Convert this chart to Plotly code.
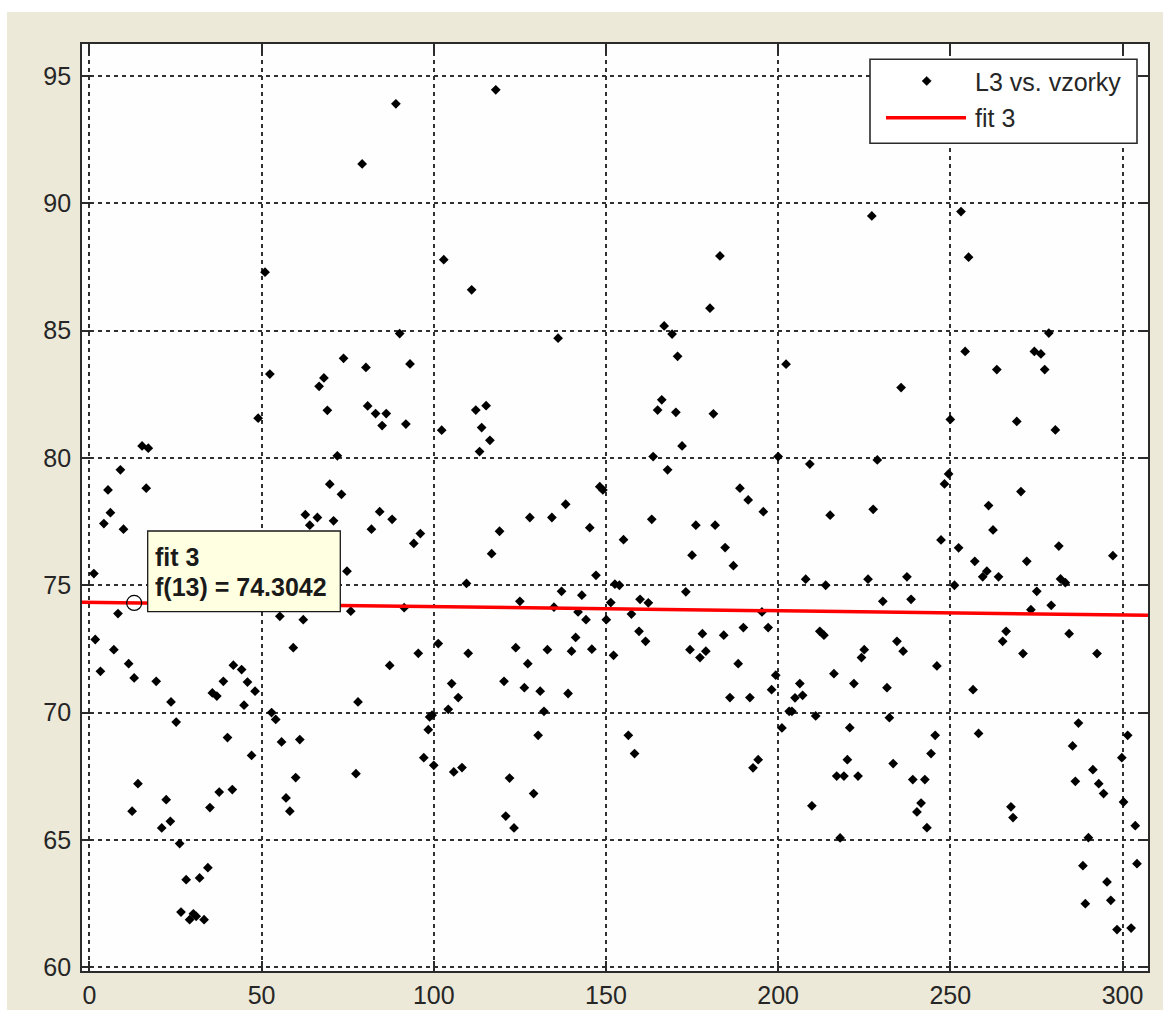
import plotly.graph_objects as go

# ---------------- data ----------------
sample_x = [
    51.0, 73.8, 52.4, 68.1, 66.7, 69.1, 49.0, 15.3, 17.1, 72.0, 9.0, 5.4, 16.5, 69.8, 73.2,
    6.1, 4.2, 9.9, 1.3, 8.3, 1.7, 7.1, 3.2, 11.4, 13.0, 19.4, 23.7, 25.2, 35.7, 37.0, 38.9,
    41.8, 44.2, 45.9, 48.1, 44.9, 40.1, 47.1, 14.1, 12.4, 22.3, 21.0, 23.5, 26.2, 35.0, 37.7,
    41.5, 28.1, 32.0, 34.4, 26.6, 29.1, 30.2, 31.0, 33.3, 62.7, 64.0, 66.2, 70.9, 74.8, 55.3,
    62.1, 75.9, 59.2, 52.9, 54.1, 55.8, 61.1, 59.9, 57.1, 58.2,
    89.0, 79.2, 118.0, 102.9, 111.0, 90.1, 136.1, 80.3, 93.1, 80.8, 83.1, 86.2, 85.0, 91.9,
    102.3, 112.2, 115.2, 113.9, 116.3, 113.3, 84.3, 138.3, 148.2, 149.1,
    81.9, 87.9, 94.2, 96.1, 91.4, 109.5, 116.8, 119.1, 127.9, 134.3, 145.3, 147.1, 137.1,
    143.0, 125.0, 134.9, 141.9, 144.2, 150.1, 151.4, 101.3, 95.5, 110.0, 87.2, 123.8, 133.0,
    140.0, 145.9, 141.2, 127.3, 120.4, 126.3, 130.9, 139.0, 105.2, 107.1, 104.2, 132.0, 78.0,
    77.4, 97.1, 98.4, 98.8, 99.5, 100.0, 105.8, 108.2, 122.0, 129.0, 120.9, 123.3, 130.3,
    227.2, 183.1, 180.2, 166.9, 169.2, 170.8, 202.3, 166.2, 165.0, 170.3, 181.2, 172.1, 163.7,
    200.0, 167.9, 209.2, 188.9, 191.3, 195.7, 228.8, 227.6,
    163.3, 155.1, 176.1, 181.7, 175.0, 184.6, 187.0, 215.1, 152.6, 153.9, 152.2, 159.9, 162.3,
    157.4, 159.6, 161.5, 173.2, 195.3, 197.1, 189.9, 184.2, 178.0, 174.4, 177.3, 179.0, 188.4,
    199.3, 198.1, 186.0, 191.8, 156.5, 158.3, 194.2, 192.7, 208.0, 213.8, 226.1, 212.1, 213.3,
    225.0, 224.2, 216.2, 222.0, 206.3, 207.1, 204.9, 203.2, 204.0, 201.1, 210.9, 220.8, 220.1,
    217.0, 219.1, 223.2, 209.8, 218.0,
    253.1, 255.3, 278.6, 254.3, 274.4, 276.3, 263.5, 277.4, 235.7, 250.0, 269.3, 280.5, 249.5,
    248.3, 270.5, 261.1, 262.4, 247.3, 252.4, 281.5, 297.2,
    237.4, 230.4, 238.6, 251.2, 257.1, 259.4, 260.6, 264.0, 272.2, 275.1, 273.4, 279.3, 282.0,
    283.4, 234.5, 236.3, 246.1, 231.6, 232.3, 233.4, 245.6, 244.4, 239.1, 242.6, 241.5, 240.3,
    243.2, 266.2, 265.2, 271.1, 256.6, 258.2, 267.6, 268.2, 284.5, 292.6, 287.2, 285.5, 286.3,
    291.4, 293.1, 294.5, 299.8, 301.5, 300.3, 303.7, 290.1, 288.5, 304.2, 295.5, 289.2, 296.6,
    298.4, 302.5,
]
l3_values = [
    87.29, 83.91, 83.29, 83.14, 82.81, 81.87, 81.56, 80.47, 80.38, 80.08, 79.53, 78.74, 78.81, 78.97, 78.57,
    77.85, 77.42, 77.20, 75.46, 73.89, 72.87, 72.47, 71.62, 71.92, 71.36, 71.23, 70.42, 69.63, 70.77, 70.65, 71.23,
    71.86, 71.69, 71.20, 70.84, 70.29, 69.02, 68.32, 67.21, 66.13, 66.58, 65.47, 65.73, 64.86, 66.27, 66.88,
    66.98, 63.44, 63.51, 63.91, 62.17, 61.87, 62.10, 62.00, 61.87, 77.77, 77.36, 77.66, 77.53, 75.55, 73.78,
    73.65, 73.98, 72.55, 70.00, 69.73, 68.85, 68.94, 67.45, 66.65, 66.13,
    93.90, 91.54, 94.45, 87.78, 86.60, 84.88, 84.70, 83.55, 83.69, 82.04, 81.74, 81.74, 81.27, 81.33,
    81.09, 81.88, 82.05, 81.19, 80.69, 80.25, 77.89, 78.18, 78.87, 78.74,
    77.20, 77.59, 76.64, 77.03, 74.12, 75.07, 76.24, 77.12, 77.66, 77.66, 77.26, 75.39, 74.76,
    74.61, 74.37, 74.14, 73.95, 73.65, 73.65, 74.32, 72.71, 72.33, 72.33, 71.85, 72.55, 72.47,
    72.41, 72.49, 72.95, 71.92, 71.23, 70.98, 70.84, 70.75, 71.14, 70.59, 70.13, 70.05, 70.42,
    67.60, 68.23, 69.33, 69.83, 69.90, 67.93, 67.67, 67.84, 67.43, 66.82, 65.94, 65.47, 69.11,
    89.50, 87.93, 85.88, 85.18, 84.86, 83.99, 83.68, 82.28, 81.88, 81.79, 81.73, 80.47, 80.05,
    80.05, 79.53, 79.76, 78.81, 78.35, 77.89, 79.92, 77.98,
    77.59, 76.79, 77.36, 77.36, 76.18, 76.48, 75.77, 77.75, 75.04, 75.00, 72.25, 74.45, 74.31,
    73.87, 73.19, 72.80, 74.74, 73.95, 73.34, 73.34, 73.04, 73.10, 72.47, 72.16, 72.41, 71.92,
    71.47, 70.90, 70.59, 70.59, 69.11, 68.39, 68.15, 67.83, 75.24, 75.00, 75.24, 73.19, 73.04,
    72.47, 72.16, 71.53, 71.14, 71.14, 70.68, 70.58, 70.05, 70.05, 69.40, 69.87, 69.41, 68.15,
    67.51, 67.51, 67.51, 66.34, 65.08,
    89.67, 87.88, 84.90, 84.18, 84.18, 84.08, 83.47, 83.47, 82.76, 81.51, 81.43, 81.10, 79.37,
    78.98, 78.68, 78.13, 77.17, 76.78, 76.47, 76.54, 76.16,
    75.33, 74.37, 74.45, 75.00, 75.94, 75.33, 75.55, 75.33, 75.94, 74.76, 74.04, 74.21, 75.25,
    75.10, 72.80, 72.41, 71.83, 70.98, 69.80, 68.00, 69.11, 68.39, 67.37, 67.37, 66.45, 66.10,
    65.48, 73.19, 72.80, 72.32, 70.90, 69.18, 66.30, 65.88, 73.10, 72.32, 69.59, 68.69, 67.30,
    67.76, 67.21, 66.82, 68.23, 69.11, 66.49, 65.56, 65.09, 63.99, 64.07, 63.35, 62.50, 62.63,
    61.48, 61.54,
]
fit_x = [-2.15, 307.4]
fit_y = [74.329, 73.820]
tip_x = [13]
tip_y = [74.3042]
x_ticks = [0, 50, 100, 150, 200, 250, 300]
y_ticks = [60, 65, 70, 75, 80, 85, 90, 95]
legend_labels = ["L3 vs. vzorky", "fit 3"]
tip_lines = ["fit 3", "f(13) = 74.3042"]

# ---------------- figure ----------------
W, H = 1163, 1010
ML, MR, MT, MB = 82, 15, 44, 39
PW, PH = W - ML - MR, H - MT - MB


def px(X):
    return (X - ML) / PW


def py(Y):
    return (H - MB - Y) / PH


fig = go.Figure()
fig.add_trace(go.Scatter(
    x=sample_x, y=l3_values, mode="markers",
    marker=dict(symbol="diamond", size=7.5, color="black", line=dict(width=0)),
    showlegend=False, hoverinfo="skip"))
fig.add_trace(go.Scatter(
    x=fit_x, y=fit_y, mode="lines", line=dict(color="#ff0000", width=3.5),
    showlegend=False, hoverinfo="skip"))
fig.add_trace(go.Scatter(
    x=tip_x, y=tip_y, mode="markers",
    marker=dict(symbol="circle-open", size=15, color="black", line=dict(width=1.2, color="black")),
    showlegend=False, hoverinfo="skip"))

axis_common = dict(
    showline=True, mirror="ticks", linecolor="#2b2b2b", linewidth=1.8,
    ticks="inside", ticklen=10, tickwidth=1.6, tickcolor="#2b2b2b",
    showgrid=True, gridcolor="#303030", gridwidth=1.5, griddash="4px,4px",
    zeroline=False,
    tickfont=dict(family="Liberation Sans, Arial, sans-serif", size=25, color="#262626"),
)
fig.update_xaxes(range=[-2.15, 307.4], tickvals=x_ticks, ticktext=[str(v) for v in x_ticks],
                 ticklabelstandoff=1, **axis_common)
fig.update_yaxes(range=[59.855, 96.25], tickvals=y_ticks, ticktext=[str(v) for v in y_ticks],
                 ticklabelstandoff=4, **axis_common)

shapes = []
# white strips around the beige figure window
shapes.append(dict(type="rect", xref="paper", yref="paper", x0=-0.2, x1=1.2, y0=py(12), y1=1.2,
                   fillcolor="white", line=dict(width=0), layer="below"))
shapes.append(dict(type="rect", xref="paper", yref="paper", x0=-0.2, x1=px(7), y0=-0.2, y1=1.2,
                   fillcolor="white", line=dict(width=0), layer="below"))
# legend box
shapes.append(dict(type="rect", xref="paper", yref="paper", x0=px(870), x1=px(1137),
                   y0=py(143.3), y1=py(59.3), fillcolor="white",
                   line=dict(color="#2b2b2b", width=1.6), layer="above"))
# legend red line
shapes.append(dict(type="line", xref="paper", yref="paper", x0=px(886), x1=px(966),
                   y0=py(117.7), y1=py(117.7), line=dict(color="#ff0000", width=3.5), layer="above"))
# legend diamond marker
cx, cy, d = 926.7, 81.0, 4.6
shapes.append(dict(type="path", xref="paper", yref="paper",
                   path=f"M {px(cx)},{py(cy - d)} L {px(cx + d)},{py(cy)} L {px(cx)},{py(cy + d)} L {px(cx - d)},{py(cy)} Z",
                   fillcolor="black", line=dict(color="black", width=0.5), layer="above"))
# datatip box
shapes.append(dict(type="rect", xref="paper", yref="paper", x0=px(147.7), x1=px(340.3),
                   y0=py(611.7), y1=py(531), fillcolor="#ffffe1",
                   line=dict(color="#1a1a1a", width=1.3), layer="above"))

annotations = []
annotations.append(dict(xref="paper", yref="paper", x=px(973), y=py(82), xanchor="left", yanchor="middle",
                        text=legend_labels[0], showarrow=False,
                        font=dict(family="Liberation Sans, Arial, sans-serif", size=25, color="#262626")))
annotations.append(dict(xref="paper", yref="paper", x=px(973), y=py(118), xanchor="left", yanchor="middle",
                        text=legend_labels[1], showarrow=False,
                        font=dict(family="Liberation Sans, Arial, sans-serif", size=25, color="#262626")))
annotations.append(dict(xref="paper", yref="paper", x=px(152.5), y=py(556.5), xanchor="left", yanchor="middle",
                        text="<b>" + tip_lines[0] + "</b>", showarrow=False,
                        font=dict(family="Liberation Sans, Arial, sans-serif", size=25, color="#1a1a1a")))
annotations.append(dict(xref="paper", yref="paper", x=px(152.5), y=py(587), xanchor="left", yanchor="middle",
                        text="<b>" + tip_lines[1] + "</b>", showarrow=False,
                        font=dict(family="Liberation Sans, Arial, sans-serif", size=25, color="#1a1a1a")))

fig.update_layout(
    width=W, height=H,
    margin=dict(l=ML, r=MR, t=MT, b=MB, autoexpand=False),
    paper_bgcolor="#ece9d8", plot_bgcolor="#fefefe",
    showlegend=False, shapes=shapes, annotations=annotations,
)

fig.write_html(
    "out.html",
    config={"displayModeBar": False},
    post_script="document.body.style.margin='0';document.body.style.padding='0';"
                "document.body.style.overflow='hidden';",
)
